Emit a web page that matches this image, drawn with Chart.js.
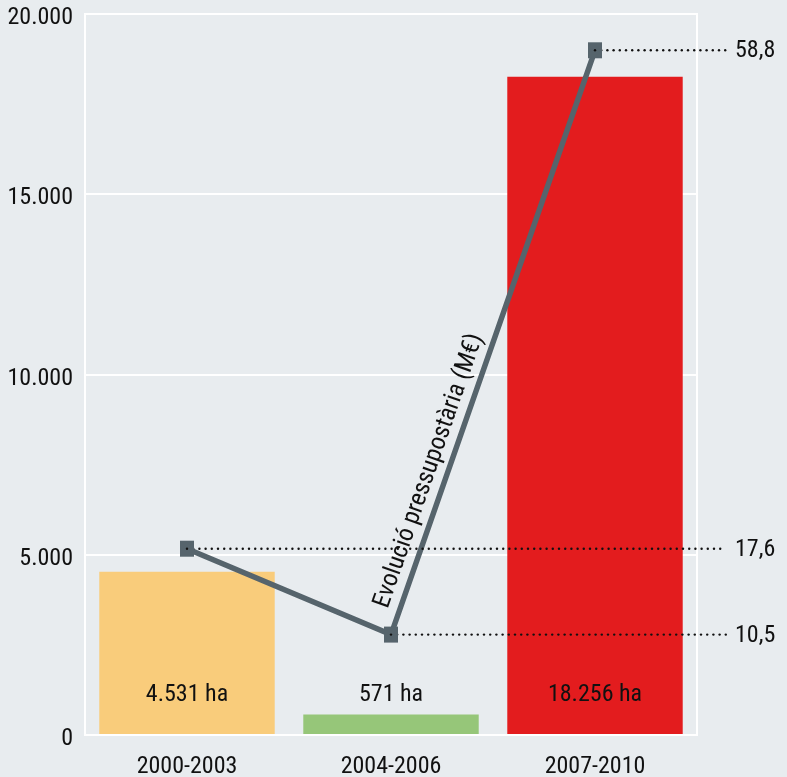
<!DOCTYPE html>
<html>
<head>
<meta charset="utf-8">
<script src="https://cdn.jsdelivr.net/npm/chart.js@4"></script>
<style>
  html, body { margin: 0; padding: 0; background: #e8ecef; }
  #wrap { width: 787px; height: 777px; }
</style>
</head>
<body>
<div id="wrap"><canvas id="chart"></canvas></div>
<script>
const periods = ['2000-2003', '2004-2006', '2007-2010'];
const hectares = [4531, 571, 18256];
const hectareLabels = ['4.531 ha', '571 ha', '18.256 ha'];
const budget = [17.6, 10.5, 58.8];
const barColors = ['#f9cc7b', '#96c679', '#e31c1e'];
const yTicks = [0, 5000, 10000, 15000, 20000];

const FONT = '"Roboto Condensed", "DejaVu Sans Condensed", sans-serif';

// marc, etiquetes i línies de punts
const extras = {
    id: 'extras',
    beforeDatasetsDraw(chart) {
        const ctx = chart.ctx;
        const a = chart.chartArea;
        ctx.save();
        ctx.strokeStyle = '#ffffff';
        ctx.lineWidth = 2;
        ctx.strokeRect(a.left, a.top, a.right - a.left, a.bottom - a.top);
        ctx.restore();
    },
    afterDatasetsDraw(chart) {
        const ctx = chart.ctx;
        const a = chart.chartArea;
        const y = chart.scales.y;
        const bars = chart.getDatasetMeta(0).data;
        const pts = chart.getDatasetMeta(1).data;

        ctx.save();
        ctx.font = '24px ' + FONT;
        ctx.fillStyle = '#111';
        ctx.textAlign = 'center';
        ctx.textBaseline = 'middle';
        bars.forEach((b, i) => {
            ctx.fillText(hectareLabels[i], b.x, y.getPixelForValue(0) - 40);
        });

        // línies de punts cap a la dreta
        pts.forEach((p, i) => {
            for (let x = p.x; x <= a.right + 29; x += 6.2) {
                ctx.beginPath();
                ctx.arc(x, p.y, 1.2, 0, Math.PI * 2);
                ctx.fill();
            }
            ctx.textAlign = 'left';
            ctx.fillText(budget[i].toFixed(1).replace('.', ','), a.right + 38, p.y + 1);
        });
        ctx.restore();

        // quadrats per sobre de la línia
        ctx.save();
        ctx.fillStyle = '#56646c';
        pts.forEach(p => ctx.fillRect(p.x - 7, p.y - 8, 14, 16));
        ctx.fillStyle = '#111';
        pts.forEach(p => {
            ctx.beginPath();
            ctx.arc(p.x, p.y, 1.2, 0, Math.PI * 2);
            ctx.fill();
        });
        ctx.restore();

        // títol girat al llarg de la línia
        const p2 = pts[1], p3 = pts[2];
        const dx = p3.x - p2.x, dy = p3.y - p2.y;
        const len = Math.sqrt(dx * dx + dy * dy);
        const ang = Math.atan2(dy, dx);
        const t = 0.27;
        const cx = p2.x + dx * t + (dy / len) * 18;
        const cy = p2.y + dy * t - (dx / len) * 18;
        ctx.save();
        ctx.translate(cx, cy);
        ctx.rotate(ang);
        ctx.font = '25px ' + FONT;
        ctx.fillStyle = '#111';
        ctx.textAlign = 'center';
        ctx.textBaseline = 'middle';
        ctx.fillText('Evolució pressupostària (M€)', 0, 0);
        ctx.restore();
    }
};

new Chart(document.getElementById('chart'), {
    data: {
        labels: periods,
        datasets: [
            {
                type: 'bar',
                data: hectares,
                backgroundColor: barColors,
                barPercentage: 0.86,
                categoryPercentage: 1,
                order: 2,
                yAxisID: 'y'
            },
            {
                type: 'line',
                data: budget,
                borderColor: '#56646c',
                borderWidth: 5.5,
                pointRadius: 0,
                tension: 0,
                order: 1,
                yAxisID: 'y2'
            }
        ]
    },
    options: {
        responsive: true,
        maintainAspectRatio: false,
        animation: false,
        layout: { padding: { top: 14, right: 90, left: 0, bottom: 0 } },
        plugins: { legend: { display: false }, tooltip: { enabled: false } },
        scales: {
            x: {
                grid: { display: false },
                border: { display: false },
                ticks: {
                    color: '#111',
                    font: { family: FONT, size: 24 },
                    padding: 10
                },
                afterFit(scale) {
                    scale.height = 42;
                    scale.paddingLeft = 0;
                    scale.paddingRight = 0;
                }
            },
            y: {
                min: 0,
                max: 20000,
                afterBuildTicks(scale) { scale.ticks = yTicks.map(v => ({ value: v })); },
                grid: { color: '#ffffff', lineWidth: 2, drawTicks: false },
                border: { display: false },
                ticks: {
                    color: '#111',
                    font: { family: FONT, size: 24 },
                    padding: 12,
                    labelOffset: 4,
                    callback: v => v.toLocaleString('de-DE')
                },
                afterFit(scale) {
                    scale.width = 85;
                    scale.paddingTop = 0;
                    scale.paddingBottom = 0;
                }
            },
            y2: {
                display: false,
                min: 2.2,
                max: 61.8
            }
        }
    },
    plugins: [extras]
});
</script>
</body>
</html>
